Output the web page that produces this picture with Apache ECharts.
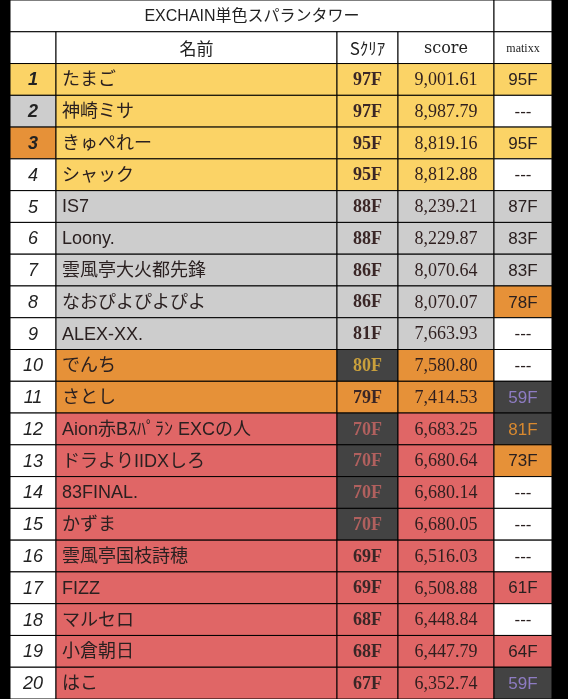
<!DOCTYPE html>
<html><head><meta charset="utf-8">
<script src="https://cdn.jsdelivr.net/npm/echarts@6/dist/echarts.min.js"></script>
<style>html,body{margin:0;background:#000}#c{width:568px;height:699px}</style>
</head><body><div id="c"></div>
<script>
const ranks = ['1','2','3','4','5','6','7','8','9','10','11','12','13','14','15','16','17','18','19','20'];
const names = ['たまご','神崎ミサ','きゅぺれー','シャック','IS7','Loony.','雲風亭大火都先鋒','なおぴよぴよぴよ','ALEX-XX.','でんち','さとし','Aion赤Bｽﾊﾟﾗﾝ EXCの人','ドラよりIIDXしろ','83FINAL.','かずま','雲風亭国枝詩穂','FIZZ','マルセロ','小倉朝日','はこ'];
const sClear = ['97F','97F','95F','95F','88F','88F','86F','86F','81F','80F','79F','70F','70F','70F','70F','69F','69F','68F','68F','67F'];
const scores = ['9,001.61','8,987.79','8,819.16','8,812.88','8,239.21','8,229.87','8,070.64','8,070.07','7,663.93','7,580.80','7,414.53','6,683.25','6,680.64','6,680.14','6,680.05','6,516.03','6,508.88','6,448.84','6,447.79','6,352.74'];
const matixx = ['95F','---','95F','---','87F','83F','83F','78F','---','---','59F','81F','73F','---','---','---','61F','---','64F','59F'];
// colour classes per row
const rowClass = ['gold','gold','gold','gold','gray','gray','gray','gray','gray','orange','orange','red','red','red','red','red','red','red','red','red'];
const rankClass = ['gold','gray','orange','white','white','white','white','white','white','white','white','white','white','white','white','white','white','white','white','white'];
const sClass = [null,null,null,null,null,null,null,null,null,'darkGold',null,'darkRed','darkRed','darkRed','darkRed',null,null,null,null,null];
const mClass = ['gold','white','gold','white','gray','gray','gray','orange','white','white','darkPurple','darkOrange','orange','white','white','white','red','white','red','darkPurple'];

const FILL = {gold:'#fbd366',gray:'#cdcdcd',orange:'#e69138',red:'#e06666',white:'#ffffff',darkGold:'#434343',darkRed:'#434343',darkPurple:'#434343',darkOrange:'#434343'};
const TXT = {darkGold:'#c9a03c',darkRed:'#b0605e',darkPurple:'#8e7cc3',darkOrange:'#d9892f'};
const EDGES = [10,56,337,398,494,552];
const rowsCat = ['title','header'].concat(ranks);

const cells = [];
function add(c0,c1,row,text,fill,color,font,size,align,weight,style){cells.push([c0,c1,row,text,fill,color,font,size,align,weight,style]);}
add(0,4,0,'EXCHAIN単色スパランタワー','#fff','#222','Liberation Sans, Noto Sans CJK JP',16,'center','normal','normal');
add(4,5,0,'','#fff','#222','sans-serif',12,'center','normal','normal');
add(0,1,1,'','#fff','#222','sans-serif',12,'center','normal','normal');
add(1,2,1,'名前','#fff','#222','Noto Sans CJK JP',17,'center','normal','normal');
add(2,3,1,'Sｸﾘｱ','#fff','#222','Noto Sans CJK JP',17,'center','normal','normal');
add(3,4,1,'score','#fff','#222','DejaVu Serif',16,'center','normal','normal');
add(4,5,1,'matixx','#fff','#222','Liberation Sans Narrow',12,'center','normal','normal');
for(let i=0;i<ranks.length;i++){
  const r=i+2, rf=FILL[rowClass[i]];
  add(0,1,r,ranks[i],FILL[rankClass[i]],'#222','Liberation Sans',18,'center',i<3?'bold':'normal','italic');
  add(1,2,r,names[i],rf,'#2a2020','Liberation Sans, Noto Sans CJK JP',18,'left','normal','normal');
  const sc=sClass[i];
  add(2,3,r,sClear[i],sc?FILL[sc]:rf,sc?TXT[sc]:'#3a2626','Liberation Serif',18,'center','bold','normal');
  add(3,4,r,scores[i],rf,'#2e1e1e','Liberation Serif',18,'center','normal','normal');
  const mc=mClass[i];
  add(4,5,r,matixx[i],FILL[mc],TXT[mc]||'#2a2020','Liberation Sans',17,'center','normal','normal');
}
const chart = echarts.init(document.getElementById('c'));
chart.setOption({
  backgroundColor:'#000',
  animation:false,
  grid:{left:0,right:0,top:0,bottom:0},
  xAxis:{type:'value',min:0,max:568,show:false},
  yAxis:{type:'category',data:rowsCat,inverse:true,show:false},
  series:[{
    type:'custom',
    data:cells,
    encode:{x:0,y:2},
    renderItem:function(params,api){
      const c0=api.value(0),c1=api.value(1),row=api.value(2);
      const d=cells[params.dataIndex];
      const x0=api.coord([EDGES[c0],row])[0], x1=api.coord([EDGES[c1],row])[0];
      const yc=api.coord([0,row])[1], h=api.size([0,1])[1];
      const y0=yc-h/2;
      return {type:'group',children:[
        {type:'rect',shape:{x:x0,y:y0,width:x1-x0,height:h},style:{fill:d[4],stroke:'#000',lineWidth:1}},
        {type:'text',style:{text:d[3],x:d[8]==='left'?x0+6:(x0+x1)/2,y:yc+1,align:d[8],verticalAlign:'middle',
          fill:d[5],fontFamily:d[6],fontSize:d[7],fontWeight:d[9],fontStyle:d[10]}}
      ]};
    }
  }]
});
</script></body></html>
